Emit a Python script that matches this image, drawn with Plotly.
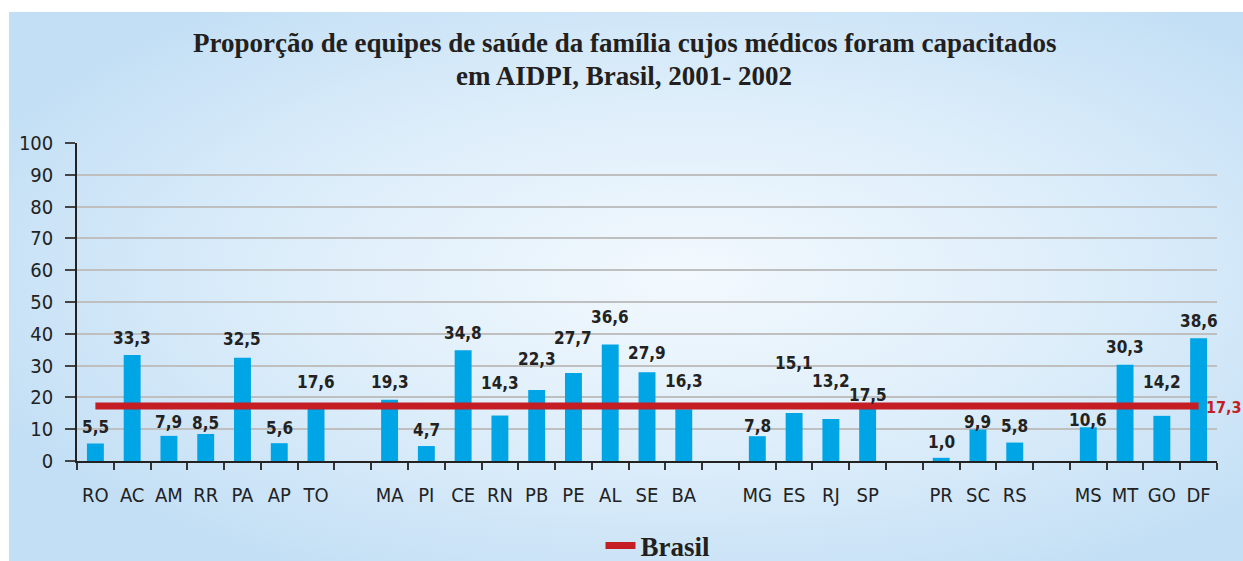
import base64
import plotly.graph_objects as go

# ---------------- data ----------------
states = ["RO", "AC", "AM", "RR", "PA", "AP", "TO", " ",
          "MA", "PI", "CE", "RN", "PB", "PE", "AL", "SE", "BA", "  ",
          "MG", "ES", "RJ", "SP", "   ",
          "PR", "SC", "RS", "    ",
          "MS", "MT", "GO", "DF"]
values = [5.5, 33.3, 7.9, 8.5, 32.5, 5.6, 17.6, None,
          19.3, 4.7, 34.8, 14.3, 22.3, 27.7, 36.6, 27.9, 16.3, None,
          7.8, 15.1, 13.2, 17.5, None,
          1.0, 9.9, 5.8, None,
          10.6, 30.3, 14.2, 38.6]
brasil_value = 17.3
y_ticks = [0, 10, 20, 30, 40, 50, 60, 70, 80, 90, 100]
title_lines = ["Proporção de equipes de saúde da família cujos médicos foram capacitados",
               "em AIDPI, Brasil, 2001- 2002"]

# ---------------- style (label lift in px) ----------------
label_lift = [17, 17, 14, 11, 19, 15, 23, None,
              18, 16, 17, 33, 31, 35, 28, 19, 28, None,
              10, 50, 38, 10, None,
              16, 8, 17, None,
              7, 18, 34, 17]

W, H = 1243, 561
L, R, T, B = 77, 1217, 143, 461
BAR = "#00a5e6"
RED = "#c41e24"
TXT = "#222222"
SANS = "DejaVu Sans Condensed, DejaVu Sans, Verdana, sans-serif"
SERIF = "Liberation Serif, Times New Roman, serif"
px_w, px_h = R - L, B - T


def fmt(v):
    return f"{v:.1f}".replace(".", ",")


def py(pixel_y):
    return (B - pixel_y) / px_h


fig = go.Figure()
fig.add_trace(go.Bar(x=states, y=values, marker=dict(color=BAR, line=dict(width=0)),
                     showlegend=False, hoverinfo="x+y"))
fig.add_trace(go.Scatter(x=[states[0], states[-1]], y=[brasil_value, brasil_value],
                         mode="lines", line=dict(color=RED, width=7), name="Brasil"))

ann = []
for s, v, lift in zip(states, values, label_lift):
    if v is None:
        continue
    ann.append(dict(x=s, y=v, xref="x", yref="y", text=fmt(v), showarrow=False,
                    yanchor="middle", yshift=lift,
                    font=dict(family=SANS, size=17, color=TXT, weight="bold")))
ann.append(dict(x=states[-1], y=brasil_value, xref="x", yref="y", text=fmt(brasil_value),
                showarrow=False, xanchor="left", yanchor="middle", xshift=5, yshift=-2,
                font=dict(family=SANS, size=16, color=RED, weight="bold")))
# title lines
for line, cy in zip(title_lines, [43, 76]):
    ann.append(dict(x=(624 - L) / px_w, y=py(cy), xref="paper", yref="paper", text=line,
                    showarrow=False, xanchor="center", yanchor="middle",
                    font=dict(family=SERIF, size=27, color="#231f20", weight="bold")))

# background panel with radial gradient
svg = (
    '<svg xmlns="http://www.w3.org/2000/svg" width="1234" height="549" '
    'viewBox="0 0 1234 549" preserveAspectRatio="none">'
    '<defs><radialGradient id="g" cx="0.55" cy="0.48" r="0.62">'
    '<stop offset="0" stop-color="#f3f9fe"/>'
    '<stop offset="0.55" stop-color="#dcedfa"/>'
    '<stop offset="1" stop-color="#c3dff5"/>'
    '</radialGradient></defs>'
    '<rect x="0" y="0" width="1234" height="549" fill="url(#g)"/></svg>'
)
src = "data:image/svg+xml;base64," + base64.b64encode(svg.encode()).decode()
bg_x0, bg_y0 = 9, 12
images = [dict(source=src, xref="paper", yref="paper",
               x=(bg_x0 - L) / px_w, y=py(bg_y0),
               sizex=(W - bg_x0) / px_w, sizey=(H - bg_y0) / px_h,
               xanchor="left", yanchor="top", sizing="stretch", layer="below")]

fig.update_layout(
    width=W, height=H,
    margin=dict(l=L, r=W - R, t=T, b=H - B, pad=0, autoexpand=False),
    paper_bgcolor="white", plot_bgcolor="rgba(0,0,0,0)",
    images=images,
    annotations=ann,
    bargap=0.54,
    legend=dict(orientation="h", x=(658 - L) / px_w, xanchor="center",
                y=py(546), yanchor="middle", bgcolor="rgba(0,0,0,0)",
                font=dict(family=SERIF, size=27, color="#231f20", weight="bold")),
    xaxis=dict(type="category", categoryorder="array", categoryarray=states,
               range=[-0.5, len(states) - 0.5],
               showline=True, linecolor="#222", linewidth=1.5,
               ticks="outside", tickson="boundaries", ticklen=7, tickcolor="#333", tickwidth=1.5,
               ticklabelstandoff=15, tickangle=0, automargin=False,
               tickfont=dict(family=SANS, size=20, color=TXT),
               showgrid=False, zeroline=False, fixedrange=True),
    yaxis=dict(range=[0, 100], tickvals=y_ticks, ticktext=[str(t) for t in y_ticks],
               showline=True, linecolor="#222", linewidth=1.5,
               ticks="outside", ticklen=10, tickcolor="#444", tickwidth=1.5,
               ticklabelstandoff=8, automargin=False,
               tickfont=dict(family=SANS, size=20, color=TXT),
               showgrid=True, gridcolor="#bfbfbf", gridwidth=1.5,
               zeroline=False, fixedrange=True),
)

fig.write_html("out.html", config={"displayModeBar": False},
               post_script="document.body.style.margin='0';document.body.style.overflow='hidden';")
